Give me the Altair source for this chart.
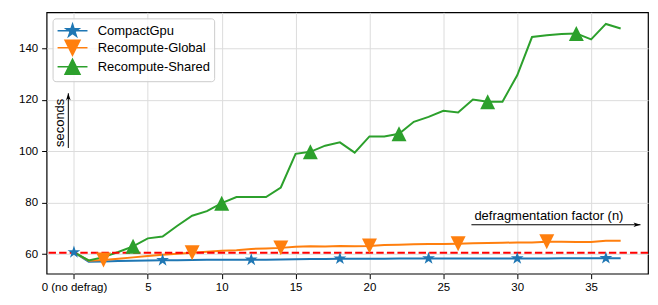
import altair as alt
import pandas as pd

# ---------------- data ----------------
n_values = list(range(38))
series_names = ["CompactGpu", "Recompute-Global", "Recompute-Shared"]
series_colors = ["#1f77b4", "#ff7f0e", "#2ca02c"]

compact_gpu = [60.7, 57.0, 57.1, 57.3, 57.4, 57.5, 57.6, 57.6, 57.7, 57.8,
               57.8, 57.8, 57.8, 57.8, 57.9, 58.0, 58.1, 58.1, 58.2, 58.2,
               58.2, 58.2, 58.3, 58.3, 58.3, 58.3, 58.3, 58.3, 58.3, 58.3,
               58.3, 58.3, 58.3, 58.4, 58.4, 58.4, 58.4, 58.4]
recompute_global = [60.7, 57.4, 57.7, 58.2, 58.7, 59.2, 59.7, 60.1, 60.5, 60.9,
                    61.3, 61.5, 62.0, 62.2, 62.4, 62.8, 63.0, 62.9, 63.1, 63.0,
                    63.1, 63.5, 63.6, 63.8, 63.9, 63.9, 64.0, 64.2, 64.3, 64.4,
                    64.5, 64.5, 64.8, 64.8, 64.7, 64.7, 65.2, 65.2]
recompute_shared = [60.7, 57.5, 58.8, 60.8, 63.0, 66.1, 66.8, 71.0, 74.9, 76.7,
                    79.8, 82.2, 82.2, 82.2, 85.9, 99.0, 99.8, 102.2, 103.5, 99.5,
                    105.8, 105.8, 106.8, 111.5, 113.4, 115.8, 115.1, 120.2, 119.3, 119.3,
                    129.6, 144.5, 145.2, 145.7, 145.9, 143.6, 149.6, 147.8]
marker_offsets = [0, 2, 4]   # markevery=(offset, 6)
marker_step = 6

x_tick_values = [0, 5, 10, 15, 20, 25, 30, 35]
y_tick_values = [60, 80, 100, 120, 140]
x_domain = [-1.85, 38.85]
y_domain = [52.35, 154.1]

baseline_value = [60.5]

seconds_label = ["seconds"]
seconds_label_x = [-0.94]
seconds_label_y = [101.7]
seconds_arrow_x = [-0.38]
seconds_arrow_y = [101.3]
seconds_arrow_y2 = [122.6]

factor_label = ["defragmentation factor (n)"]
factor_label_x = [27.1]
factor_label_y = [73.3]
factor_arrow_x = [26.9]
factor_arrow_x2 = [38.34]
factor_arrow_y = [71.4]

# ---------------- tables ----------------
rows = []
for name, vals, off in zip(series_names, [compact_gpu, recompute_global, recompute_shared], marker_offsets):
    for n, v in zip(n_values, vals):
        rows.append({"series": name, "n": n, "seconds": v,
                     "marker": (n >= off and (n - off) % marker_step == 0)})
df = pd.DataFrame(rows)
df_markers = df[df["marker"]].copy()

star = ("M0,-0.9L0.2021,-0.2781L0.8559,-0.2781L0.3269,0.1062L0.5292,0.7281"
        "L0,0.3438L-0.5292,0.7281L-0.3269,0.1062L-0.8559,-0.2781L-0.2021,-0.2781Z")
tri_down = "M0,1L1,-1L-1,-1Z"
tri_up = "M0,-1L1,1L-1,1Z"
marker_paths = [star, tri_down, tri_up]
line_seg = "M-2,0L2,0"
legend_paths = [p + line_seg for p in marker_paths]

FONT = "Liberation Sans"
xs = alt.Scale(domain=x_domain, nice=False, zero=False)
ys = alt.Scale(domain=y_domain, nice=False, zero=False)
x_axis = alt.Axis(values=x_tick_values,
                  labelExpr="datum.value == 0 ? '0 (no defrag)' : datum.label")
y_axis = alt.Axis(values=y_tick_values)
cscale = alt.Scale(domain=series_names, range=series_colors)


def X(field):
    return alt.X(field, type="quantitative", scale=xs, axis=x_axis, title=None)


def Y(field):
    return alt.Y(field, type="quantitative", scale=ys, axis=y_axis, title=None)


lines = alt.Chart(df).mark_line(strokeWidth=2).encode(
    x=X("n"), y=Y("seconds"),
    color=alt.Color("series:N", scale=cscale, legend=None),
    order="n:Q",
)

baseline = alt.Chart(pd.DataFrame({"y": baseline_value})).mark_rule(
    color="red", strokeWidth=2, strokeDash=[7.4, 3.2]
).encode(y=Y("y"))

markers = alt.Chart(df_markers).mark_point(filled=True, opacity=1, size=225).encode(
    x=X("n"), y=Y("seconds"),
    color=alt.Color("series:N", scale=cscale, legend=None),
    shape=alt.Shape("series:N", scale=alt.Scale(domain=series_names, range=marker_paths), legend=None),
)

leg_props = dict(orient="top-left", offset=6, symbolSize=225, symbolStrokeWidth=1.5,
                 symbolOpacity=1, symbolOffset=7.5, labelOffset=16.7,
                 labelFontSize=13, labelFont=FONT, labelColor="black",
                 padding=4, rowPadding=-2, strokeColor="#cccccc",
                 fillColor="rgba(255,255,255,0.8)", cornerRadius=3)
legend_layer = alt.Chart(df_markers).mark_point(filled=True, opacity=0, size=225).encode(
    x=X("n"), y=Y("seconds"),
    color=alt.Color("series:N", scale=cscale, title=None, legend=alt.Legend(**leg_props)),
    stroke=alt.Stroke("series:N", scale=cscale, title=None, legend=alt.Legend(**leg_props)),
    shape=alt.Shape("series:N", scale=alt.Scale(domain=series_names, range=legend_paths),
                    title=None, legend=alt.Legend(**leg_props)),
)

sec_df = pd.DataFrame({"label": seconds_label, "lx": seconds_label_x, "ly": seconds_label_y,
                       "ax": seconds_arrow_x, "ay": seconds_arrow_y, "ay2": seconds_arrow_y2})
sec_text = alt.Chart(sec_df).mark_text(angle=270, align="left", baseline="middle",
                                       fontSize=13, font=FONT, color="black").encode(
    x=X("lx"), y=Y("ly"), text="label:N")
sec_line = alt.Chart(sec_df).mark_rule(color="black", strokeWidth=1).encode(
    x=X("ax"), y=Y("ay"), y2="ay2:Q")
sec_head = alt.Chart(sec_df).mark_point(
    shape="M0,0L0.4,1.2L0,0.9L-0.4,1.2Z", filled=True, color="black", opacity=1, size=135
).encode(x=X("ax"), y=Y("ay2"))

fac_df = pd.DataFrame({"label": factor_label, "lx": factor_label_x, "ly": factor_label_y,
                       "ax": factor_arrow_x, "ax2": factor_arrow_x2, "ay": factor_arrow_y})
fac_text = alt.Chart(fac_df).mark_text(align="left", baseline="alphabetic",
                                       fontSize=13, font=FONT, color="black").encode(
    x=X("lx"), y=Y("ly"), text="label:N")
fac_line = alt.Chart(fac_df).mark_rule(color="black", strokeWidth=1).encode(
    x=X("ax"), x2="ax2:Q", y=Y("ay"))
fac_head = alt.Chart(fac_df).mark_point(
    shape="M0,0L-1.2,0.4L-0.9,0L-1.2,-0.4Z", filled=True, color="black", opacity=1, size=135
).encode(x=X("ax2"), y=Y("ay"))

chart = alt.layer(
    lines, baseline, markers, legend_layer,
    sec_line, sec_head, sec_text, fac_line, fac_head, fac_text
).resolve_scale(
    color="independent", shape="independent", stroke="independent"
).properties(
    width=603, height=262,
    padding={"left": 38.7, "top": 4, "right": 2, "bottom": 26},
    autosize=alt.AutoSizeParams(type="none"),
).configure_view(
    stroke="black", strokeWidth=1.2
).configure_axis(
    grid=True, gridColor="#dcdcdc", gridWidth=1, domain=False,
    tickColor="black", tickSize=5, tickWidth=1,
    labelFont=FONT, labelFontSize=11.5, labelColor="black", labelPadding=3,
).configure_axisY(labelPadding=4)

chart.save("out.html", embed_options={"renderer": "svg", "actions": False})
